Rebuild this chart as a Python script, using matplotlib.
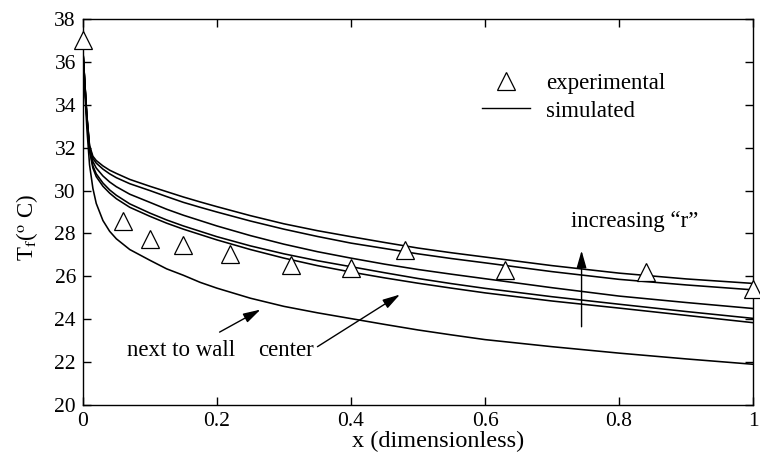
import matplotlib
matplotlib.use('Agg')
import matplotlib.pyplot as plt
from matplotlib.lines import Line2D

# experimental points
x_exp = [0.0, 0.06, 0.10, 0.15, 0.22, 0.31, 0.40, 0.48, 0.63, 0.84, 1.0]
t_exp = [37.0, 28.6, 27.75, 27.45, 27.05, 26.55, 26.4, 27.25, 26.3, 26.2, 25.4]

# simulated curves
x_sim = [0.0, 0.003, 0.006, 0.01, 0.015, 0.02, 0.03, 0.04, 0.05, 0.07, 0.1,
         0.125, 0.15, 0.175, 0.2, 0.25, 0.3, 0.35, 0.4, 0.45, 0.5, 0.55, 0.6,
         0.7, 0.8, 0.9, 1.0]
t_r1 = [36.6, 35.0, 33.5, 32.1, 31.6, 31.4, 31.15, 30.95, 30.8, 30.52, 30.2,
        29.95, 29.7, 29.47, 29.25, 28.83, 28.45, 28.13, 27.85, 27.58, 27.32,
        27.1, 26.9, 26.5, 26.15, 25.88, 25.67]
t_r2 = [36.6, 35.0, 33.5, 32.05, 31.5, 31.28, 31.0, 30.78, 30.6, 30.32, 30.0,
        29.72, 29.45, 29.22, 29.0, 28.58, 28.2, 27.86, 27.55, 27.3, 27.05,
        26.83, 26.63, 26.22, 25.86, 25.6, 25.37]
t_r3 = [36.6, 35.0, 33.45, 32.0, 31.35, 31.05, 30.68, 30.4, 30.18, 29.83, 29.45,
        29.13, 28.85, 28.6, 28.35, 27.9, 27.5, 27.15, 26.85, 26.57, 26.32,
        26.1, 25.89, 25.47, 25.08, 24.78, 24.5]
t_r4 = [36.6, 34.95, 33.4, 31.9, 31.15, 30.78, 30.35, 30.03, 29.78, 29.38, 28.95,
        28.63, 28.35, 28.1, 27.85, 27.42, 27.05, 26.73, 26.45, 26.17, 25.9,
        25.66, 25.44, 25.05, 24.7, 24.36, 24.04]
t_r5 = [36.6, 34.9, 33.35, 31.85, 31.05, 30.65, 30.2, 29.88, 29.62, 29.22, 28.8,
        28.48, 28.2, 27.95, 27.7, 27.25, 26.85, 26.5, 26.2, 25.93, 25.68,
        25.45, 25.23, 24.85, 24.52, 24.18, 23.84]
t_wall = [36.6, 34.6, 32.9, 31.2, 30.1, 29.4, 28.6, 28.1, 27.75, 27.25, 26.75,
          26.35, 26.05, 25.72, 25.45, 24.98, 24.6, 24.3, 24.03, 23.76, 23.5,
          23.27, 23.05, 22.72, 22.42, 22.15, 21.9]
sim_curves = [t_r1, t_r2, t_r3, t_r4, t_r5, t_wall]

plt.rcParams['font.family'] = 'Liberation Serif'
plt.rcParams['mathtext.fontset'] = 'stix'

fig = plt.figure(figsize=(7.6, 4.59), dpi=100)
ax = fig.add_axes([0.109, 0.1176, 0.882, 0.841])

for t in sim_curves:
    ax.plot(x_sim, t, color='black', lw=1.15)
ax.plot(x_exp, t_exp, linestyle='none', marker='^', markersize=13,
        markerfacecolor='white', markeredgecolor='black', markeredgewidth=0.9,
        clip_on=False, zorder=5)

ax.set_xlim(0, 1)
ax.set_ylim(20, 38)
ax.set_xticks([0, 0.2, 0.4, 0.6, 0.8, 1])
ax.set_xticklabels(['0', '0.2', '0.4', '0.6', '0.8', '1'])
ax.set_yticks(range(20, 39, 2))
ax.tick_params(direction='in', top=True, right=True, length=6, width=1,
               labelsize=15.5, pad=5)
for s in ax.spines.values():
    s.set_linewidth(1.0)
ax.set_xlabel('x (dimensionless)', fontsize=17.5, labelpad=0, x=0.53)
ax.set_ylabel(r'T$_\mathrm{f}$($^\mathrm{o}$ C)', fontsize=16.5, labelpad=10,
              y=0.46)

# annotations
arrow = dict(arrowstyle='-|>,head_length=0.7,head_width=0.2', color='black',
             lw=1.0, mutation_scale=15, shrinkA=0, shrinkB=0)
ax.annotate('', xy=(0.744, 27.2), xytext=(0.744, 23.65), arrowprops=arrow)
ax.text(0.824, 28.55, 'increasing \u201cr\u201d', ha='center', va='center',
        fontsize=16.5)
ax.annotate('', xy=(0.265, 24.45), xytext=(0.204, 23.4), arrowprops=arrow)
ax.text(0.146, 22.55, 'next to wall', ha='center', va='center', fontsize=16.5)
ax.annotate('', xy=(0.473, 25.15), xytext=(0.35, 22.72), arrowprops=arrow)
ax.text(0.303, 22.55, 'center', ha='center', va='center', fontsize=16.5)

handles = [Line2D([], [], linestyle='none', marker='^', markersize=13,
                  markerfacecolor='white', markeredgecolor='black',
                  markeredgewidth=0.9),
           Line2D([], [], color='black', lw=1.0)]
ax.legend(handles, ['experimental', 'simulated'], loc='upper left',
          bbox_to_anchor=(0.582, 0.885), frameon=False, fontsize=16.5,
          handlelength=2.1, handletextpad=0.7, labelspacing=0.3,
          borderaxespad=0)

fig.savefig('out.png', dpi=100)
